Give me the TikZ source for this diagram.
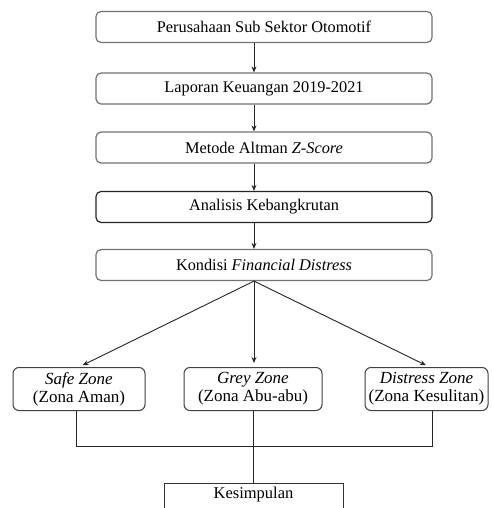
\documentclass[tikz,border=0pt]{standalone}
\usepackage{fontspec}
\setmainfont{Liberation Serif}
\usetikzlibrary{arrows.meta}
\begin{document}
\begin{tikzpicture}[x=1pt,y=-1pt,
  flowbox/.style={draw=black!55, line width=1.2pt, rounded corners=5pt, minimum width=336pt, minimum height=31pt, inner sep=0pt, font=\fontsize{16.3}{19}\selectfont},
  zonebox/.style={draw=black!75, line width=1pt, rounded corners=6pt, minimum height=43pt, inner sep=0pt, align=center, font=\fontsize{17}{18}\selectfont},
  endbox/.style={draw=black!80, line width=1pt, minimum width=179pt, anchor=north, inner xsep=0pt, inner ysep=4pt, text height=11pt, text depth=30pt, font=\fontsize{16.5}{19}\selectfont},
  conn/.style={draw=black!85, line width=0.9pt},
  arr/.style={conn, -{Stealth[length=6pt,width=5pt]}}]
\path[use as bounding box] (0,0) rectangle (492,508);
\clip (0,0) rectangle (492,508);
\fill[white] (0,0) rectangle (492,508);
\node[flowbox] (b1) at (264,27) {Perusahaan Sub Sektor Otomotif};
\node[flowbox] (b2) at (264,88.5) {Laporan Keuangan 2019-2021};
\node[flowbox] (b3) at (264,147.5) {Metode Altman \textit{Z-Score}};
\node[flowbox, draw=black!85] (b4) at (264,207) {Analisis Kebangkrutan};
\node[flowbox] (b5) at (264,265) {Kondisi \textit{Financial Distress}};
\node[zonebox, minimum width=132pt] (safe) at (79,389) {\textit{Safe Zone}\\(Zona Aman)};
\node[zonebox, minimum width=138pt] (grey) at (253,389) {\textit{Grey Zone}\\(Zona Abu-abu)};
\node[zonebox, minimum width=123pt] (dist) at (426.5,389) {\textit{Distress Zone}\\(Zona Kesulitan)};
\node[endbox] (kes) at (253.5,483) {Kesimpulan};
\coordinate (ax) at (254,0);
\draw[arr] (b1.south -| ax) -- (b2.north -| ax);
\draw[arr] (b2.south -| ax) -- (b3.north -| ax);
\draw[arr] (b3.south -| ax) -- (b4.north -| ax);
\draw[arr] (b4.south -| ax) -- (b5.north -| ax);
\draw[arr, shorten >=4pt] (b5.south -| ax) -- (safe.north);
\draw[arr, shorten >=4pt] (b5.south -| ax) -- (grey.north -| ax);
\draw[arr, shorten >=4pt] (b5.south -| ax) -- ([xshift=3pt]dist.north);
\draw[conn] ([xshift=-3pt]safe.south) -- ++(0,35) -| ([xshift=5.5pt]dist.south);
\draw[conn] (grey.south) -- (grey.south |- kes.north);
\end{tikzpicture}
\end{document}
